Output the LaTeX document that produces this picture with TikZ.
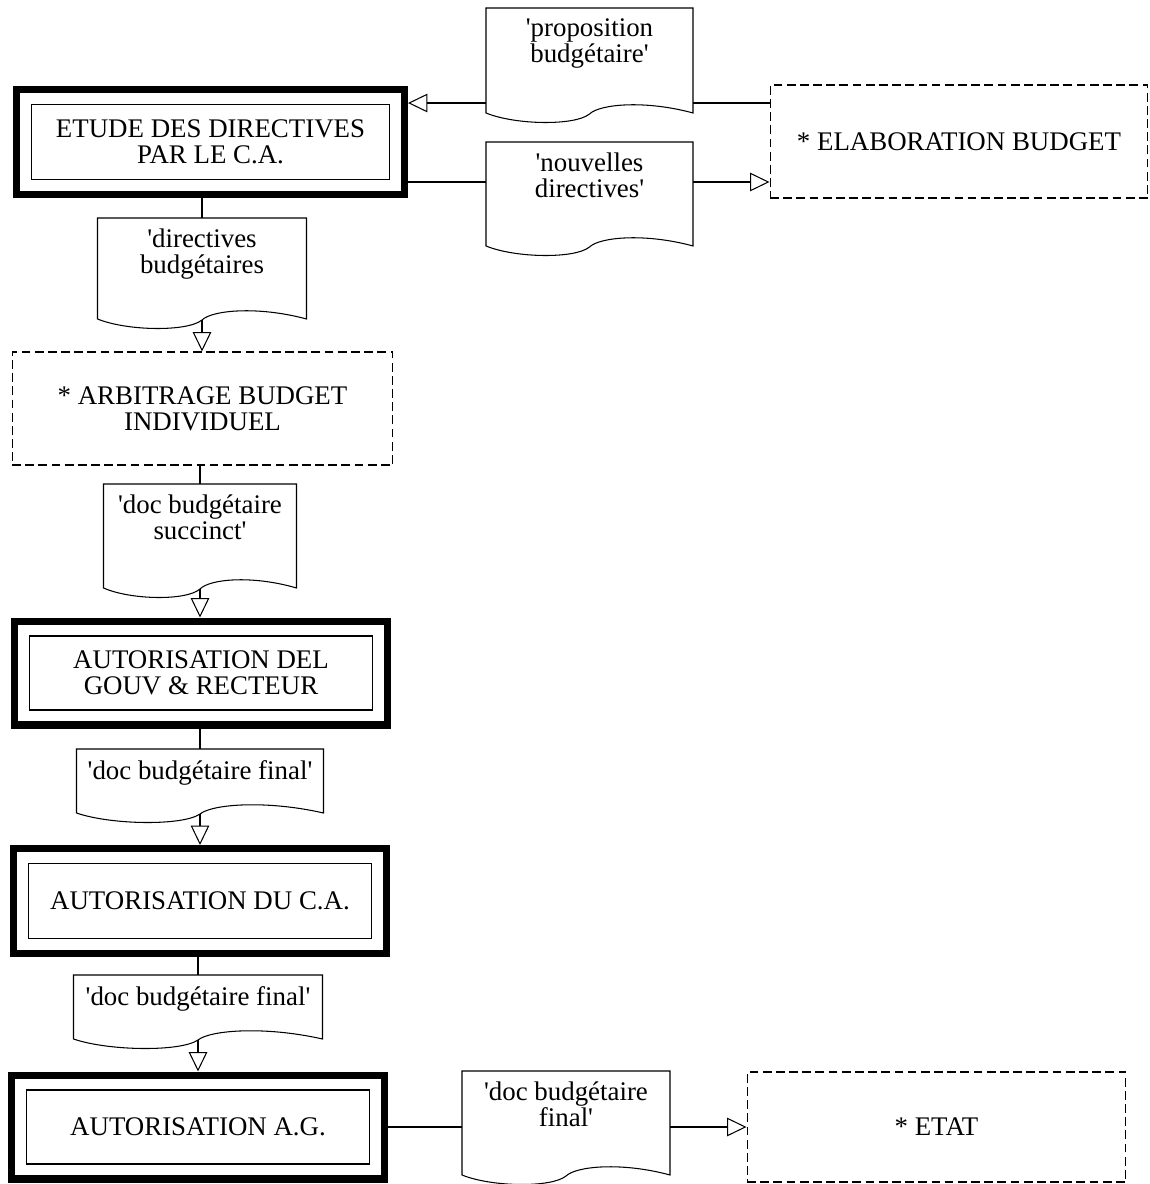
\documentclass[tikz,border=0pt]{standalone}
\usepackage{fontspec}
\setmainfont{Liberation Serif}
\usepackage{tikz}
\usetikzlibrary{arrows.meta,calc}
\newcommand{\qt}{\textquotesingle}
\tikzstyle{every node}=[font=\fontsize{15.3}{14.8}\selectfont]
\tikzstyle{every path}=[line width=0.6pt]
\tikzstyle{procbox}=[draw,line width=4pt,minimum width=7.45cm,minimum height=2.08cm,align=center,
  path picture={\draw[line width=0.6pt] ([shift={(0.3cm,-0.3cm)}]path picture bounding box.north west)
    rectangle ([shift={(-0.3cm,0.3cm)}]path picture bounding box.south east);}]
\tikzstyle{extbox}=[draw,dash pattern=on 5pt off 2.5pt,minimum width=7.6cm,minimum height=2.26cm,align=center]
\tikzstyle{docu}=[anchor=north,inner sep=0pt,outer sep=0pt,minimum height=2.26cm]
\tikzstyle{doclbl}=[anchor=north,align=center,inner sep=6pt]
\tikzstyle{flow}=[-{Triangle[open,length=11pt,width=10.5pt]}]
% document sheet with a wavy lower edge, drawn round a named node
\newcommand{\docwave}[1]{%
  \draw ($(#1.south west)+(0,0.18cm)$) -- (#1.north west) -- (#1.north east)
    -- ($(#1.south east)+(0,0.18cm)$)
    .. controls ($(#1.south west)!0.77!(#1.south east)+(0,0.44cm)$)
    and ($(#1.south west)!0.55!(#1.south east)+(0,0.36cm)$)
    .. ($(#1.south)+(0,0.16cm)$) coordinate (#1-k)
    .. controls ($(#1.south west)!0.43!(#1.south east)+(0,-0.08cm)$)
    and ($(#1.south west)!0.14!(#1.south east)+(0,-0.06cm)$)
    .. ($(#1.south west)+(0,0.18cm)$) -- cycle;}

\begin{document}
\begin{tikzpicture}[x=0.02cm,y=-0.02cm]
  \useasboundingbox (0,0) rectangle (1150,1184);
  % processes
  \node[procbox,minimum width=7.76cm,minimum height=2.1cm] (etude) at (210.5,142) {ETUDE DES DIRECTIVES\\PAR LE C.A.};
  \node[procbox] (delgouv) at (201,673) {AUTORISATION DEL\\GOUV \& RECTEUR};
  \node[procbox,minimum height=2.1cm] (duca) at (200,901) {AUTORISATION DU C.A.};
  \node[procbox] (ag) at (198,1127) {AUTORISATION A.G.};
  % outside
  \node[extbox,minimum width=7.56cm] (elab) at (959,141.5) {* ELABORATION BUDGET};
  \node[extbox,minimum width=7.62cm] (arbit) at (202.5,408.5) {* ARBITRAGE BUDGET\\INDIVIDUEL};
  \node[extbox,minimum width=7.58cm,minimum height=2.2cm] (etat) at (936.5,1127) {* ETAT};
  % documents
  \node[docu,minimum width=4.14cm,minimum height=2.28cm,label={[doclbl]north:{\qt proposition\\budgétaire\qt}}] (prop) at (589.5,8) {};
  \node[docu,minimum width=4.14cm,label={[doclbl]north:{\qt nouvelles\\directives\qt}}] (nouv) at (589.5,142) {};
  \node[docu,minimum width=4.18cm,minimum height=2.2cm,label={[doclbl]north:{\qt directives\\budgétaires}}] (dirbud) at (202,218) {};
  \node[docu,minimum width=3.86cm,label={[doclbl]north:{\qt doc budgétaire\\succinct\qt}}] (succ) at (200,484) {};
  \node[docu,minimum width=4.94cm,minimum height=1.46cm,label={[doclbl]north:{\qt doc budgétaire final\qt}}] (final1) at (200,749) {};
  \node[docu,minimum width=4.98cm,minimum height=1.46cm,label={[doclbl]north:{\qt doc budgétaire final\qt}}] (final2) at (198,975) {};
  \node[docu,minimum width=4.16cm,label={[doclbl]north:{\qt doc budgétaire\\final\qt}}] (final3) at (566,1071) {};
  \docwave{prop}
  \docwave{nouv}
  \docwave{dirbud}
  \docwave{succ}
  \docwave{final1}
  \docwave{final2}
  \docwave{final3}
  % flows
  \coordinate (etude-in) at ([yshift=0.78cm]etude.east);
  \coordinate (etude-out) at ([yshift=-0.8cm]etude.east);
  \draw (elab.west |- etude-in) -- (prop.east |- etude-in);
  \draw[flow] (prop.west |- etude-in) -- (etude-in);
  \draw (etude-out) -- (nouv.west |- etude-out);
  \draw[flow] (nouv.east |- etude-out) -- (elab.west |- etude-out);
  \draw (etude.south -| dirbud.north) -- (dirbud.north);
  \draw[flow] (dirbud-k) -- (dirbud-k |- arbit.north);
  \draw (arbit.south -| succ.north) -- (succ.north);
  \draw[flow] (succ-k) -- (succ-k |- delgouv.north);
  \draw (delgouv.south -| final1.north) -- (final1.north);
  \draw[flow] (final1-k) -- (final1-k |- duca.north);
  \draw (duca.south -| final2.north) -- (final2.north);
  \draw[flow] (final2-k) -- (final2-k |- ag.north);
  \draw (ag.east) -- (final3.west |- ag.east);
  \draw[flow] (final3.east |- ag.east) -- (etat.west |- ag.east);
\end{tikzpicture}
\end{document}
